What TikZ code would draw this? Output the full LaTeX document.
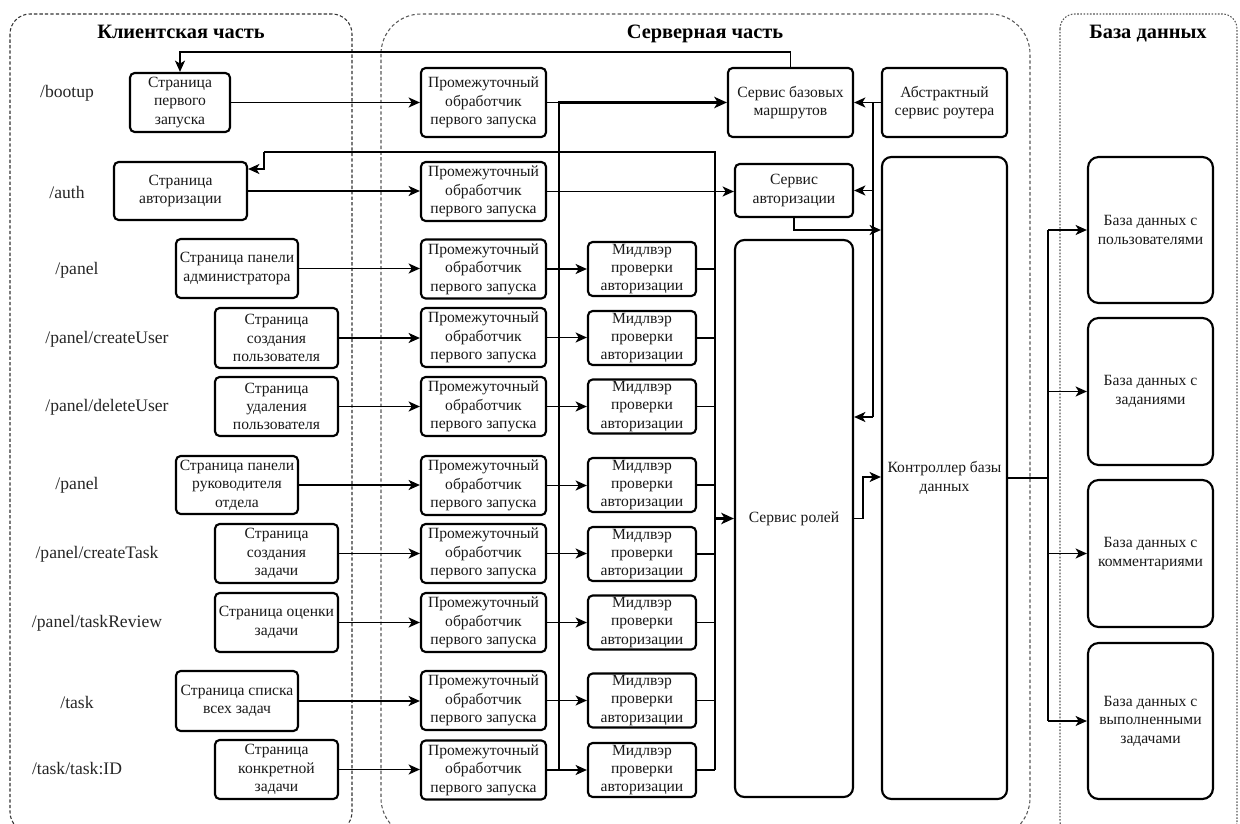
\documentclass[tikz,border=0pt]{standalone}
\usepackage{fontspec}
\setmainfont{Liberation Serif}
\usetikzlibrary{arrows.meta}
\newdimen\pxu \pxu=0.75pt
\newcommand\boxfont{\fontsize{11.7}{13.8}\selectfont}
\newcommand\pathfont{\fontsize{13.2}{15}\selectfont}
\newcommand\titlefont{\fontsize{15.3}{18}\selectfont\bfseries}
\begin{document}
\begin{tikzpicture}[x=0.75pt,y=-0.75pt,
  box/.style={draw=black, line width=1.6pt, rounded corners=3.5pt, align=center, inner sep=0pt, font=\boxfont, text=black!90},
  big/.style={box, rounded corners=7pt},
  sz/.style 2 args={minimum width=#1\pxu, minimum height=#2\pxu},
  conn/.style={line width=1.3pt},
  arr/.style={line width=1.3pt, -{Stealth[length=8.5pt,width=7.5pt,inset=2.3pt]}},
  tline/.style={line width=2.2pt},
  tarr/.style={line width=2.2pt, -{Stealth[length=9.5pt,width=8.5pt,inset=2.6pt]}},
  lbl/.style={font=\pathfont, text=black!85, inner sep=0pt},
  ttl/.style={font=\titlefont, anchor=base, inner sep=0pt},
  contA/.style={draw=black!80, line width=0.8pt, dash pattern=on 2.5pt off 1.6pt, rounded corners=15pt},
  contB/.style={draw=black!65, line width=0.8pt, dash pattern=on 2.5pt off 1.8pt, rounded corners=30pt},
  contC/.style={draw=black!65, line width=0.8pt, dash pattern=on 1.2pt off 1.2pt, rounded corners=11pt}
]
\fill[white] (0,0) rectangle (1240,824);
\useasboundingbox (0,0) rectangle (1240,824);
\clip (0,0) rectangle (1240,824);

% containers
\draw[contA] (10,14) rectangle (352,832);
\draw[contB] (381,14) rectangle (1030,838);
\draw[contC] (1060,14) rectangle (1237,836);

\node[ttl] (t1) at (181,39) {Клиентская часть};
\node[ttl] (t2) at (705,39) {Серверная часть};
\node[ttl] (t3) at (1148,39) {База данных};

% path labels
\node[lbl] (l1) at (67,93) {/bootup};
\node[lbl] (l2) at (67,192) {/auth};
\node[lbl] (l3) at (77,270) {/panel};
\node[lbl] (l4) at (107,339) {/panel/createUser};
\node[lbl] (l5) at (107,407) {/panel/deleteUser};
\node[lbl] (l6) at (77,485) {/panel};
\node[lbl] (l7) at (97,554) {/panel/createTask};
\node[lbl] (l8) at (97,623) {/panel/taskReview};
\node[lbl] (l9) at (77,702) {/task};
\node[lbl] (l10) at (77,769) {/task/task:ID};

% client pages
\node[box, sz={100}{59}] (p1) at (180,102.5) {Страница\\первого\\запуска};
\node[box, sz={133}{58}] (p2) at (180.5,191) {Страница\\авторизации};
\node[box, sz={122}{59}] (p3) at (237,268.5) {Страница панели\\администратора};
\node[box, sz={123}{60}] (p4) at (276.5,338) {Страница\\создания\\пользователя};
\node[box, sz={123}{59}] (p5) at (276.5,406.5) {Страница\\удаления\\пользователя};
\node[box, sz={122}{58}] (p6) at (237,485) {Страница панели\\руководителя\\отдела};
\node[box, sz={123}{59}] (p7) at (276.5,553.5) {Страница\\создания\\задачи};
\node[box, sz={123}{59}] (p8) at (276.5,622.5) {Страница оценки\\задачи};
\node[box, sz={122}{60}] (p9) at (237,701) {Страница списка\\всех задач};
\node[box, sz={123}{59}] (p10) at (276.5,769.5) {Страница\\конкретной\\задачи};

% intermediate handlers
\node[box, sz={125}{69}] (m1) at (483.5,102.5) {Промежуточный\\обработчик\\первого запуска};
\foreach \i/\y in {2/191.5,3/269,4/337.5,5/406.5,6/485.5,7/553.5,8/622.5,9/700.5,10/770}{
  \node[box, sz={125}{59}] (m\i) at (483.5,\y) {Промежуточный\\обработчик\\первого запуска};
}
% auth middleware
\foreach \i/\y in {3/269,4/338,5/406.5,6/485,7/554,8/622.5,9/700.5,10/770}{
  \node[box, sz={108}{54}] (a\i) at (642,\y) {Мидлвэр\\проверки\\авторизации};
}

% services
\node[box, sz={125}{69}] (base) at (790.5,102.5) {Сервис базовых\\маршрутов};
\node[box, sz={125}{69}] (abs) at (944.5,102.5) {Абстрактный\\сервис роутера};
\node[box, sz={118}{53}] (authsvc) at (794,190.5) {Сервис\\авторизации};
\node[big, sz={118}{557}] (roles) at (794,518.5) {Сервис ролей};
\node[big, sz={125}{642}] (ctrl) at (944.5,478) {Контроллер базы\\данных};

% databases
\node[big, rounded corners=8pt, sz={125}{146}] (db1) at (1150.5,230) {База данных с\\пользователями};
\node[big, rounded corners=8pt, sz={125}{147}] (db2) at (1150.5,391.5) {База данных с\\заданиями};
\node[big, rounded corners=8pt, sz={125}{147}] (db3) at (1150.5,553.5) {База данных с\\комментариями};
\node[big, rounded corners=8pt, sz={125}{156}] (db4) at (1150.5,721) {База данных с\\выполненными\\задачами};

% pages -> handlers
\foreach \i in {1,...,10}{
  \draw[arr] (p\i.east) -- (p\i.east -| m\i.west);
}
% handlers -> auth middleware
\foreach \i in {3,...,10}{
  \draw[arr] (m\i.east) -- (m\i.east -| a\i.west);
}
\draw[arr] (m2.east) -- (m2.east -| authsvc.west);

% thick bus to base routes
\coordinate (bA) at (559,102.5);
\draw[conn] (m1.east) -- (bA);
\draw[tarr] (m10.east -| bA) -- (bA) -- (bA -| base.west);

% base routes -> first page
\draw[arr] (base.north) -- ++(0,-15) -| (p1.north);

% auth middleware bus to roles and back to auth page
\coordinate (bB) at (715,152);
\coordinate (r2) at (264,152);
\coordinate (p2t) at ([yshift=16.5pt]p2.east);
\foreach \i in {3,...,10}{
  \draw[conn] (a\i.east) -- (a\i.east -| bB);
}
\draw[tline] (a3.east -| bB) -- (a10.east -| bB);
\draw[conn] (a3.east -| bB) -- (bB) -- (r2);
\draw[arr] (r2) -- (r2 |- p2t) -- (p2t);
\draw[tarr] (roles.west -| bB) -- (roles.west);

% abstract router service
\draw[arr] (abs.west) -- (base.east);
\coordinate (vb) at (873,102.5);
\coordinate (vb2) at (873,417);
\draw[conn] (vb) -- (vb2);
\draw[arr] (vb |- authsvc.east) -- (authsvc.east);
\draw[arr] (vb2) -- (vb2 -| roles.east);

% services -> controller
\coordinate (c1) at (794,230);
\draw[arr] (authsvc.south) -- (c1) -- (c1 -| ctrl.west);
\coordinate (c2) at (863,477);
\draw[arr] (roles.east) -| (c2) -- (c2 -| ctrl.west);

% controller -> databases
\coordinate (dbus) at (1048,478);
\draw[conn] (ctrl.east) -- (dbus);
\draw[conn] (dbus |- db1.west) -- (dbus |- db4.west);
\foreach \d in {db1,db2,db3,db4}{
  \draw[arr] (dbus |- \d.west) -- (\d.west);
}
\end{tikzpicture}
\end{document}
